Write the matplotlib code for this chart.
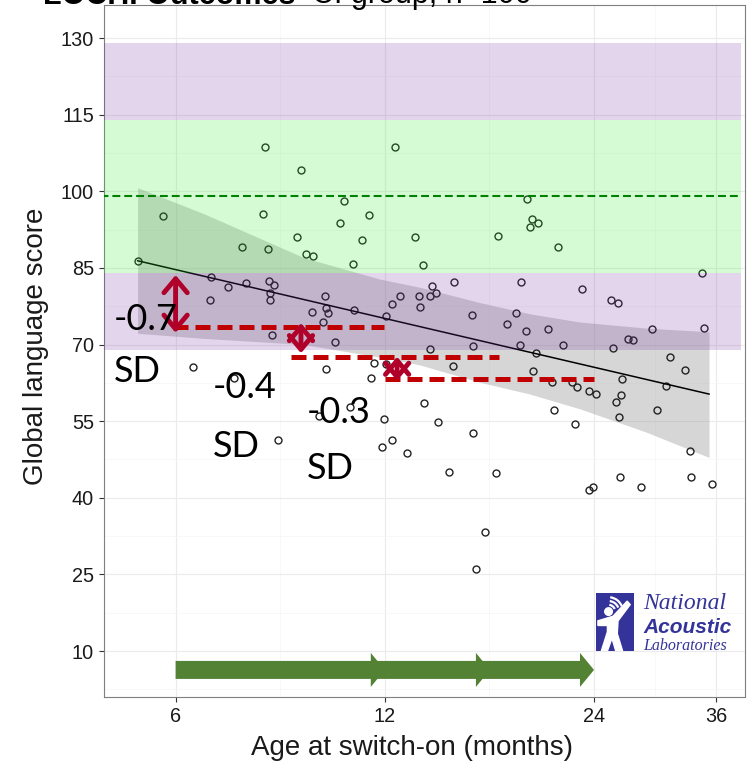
import matplotlib
matplotlib.use('Agg')
import matplotlib.pyplot as plt
from matplotlib.ticker import FixedLocator, NullFormatter
from matplotlib.patches import FancyArrowPatch, Rectangle, Ellipse, Polygon, Arc

# scatter: age at switch-on (months) vs global language score
ages = [8.07, 9.09, 10.48, 8.01, 11.38, 5.75, 10.35, 8.96, 11.14, 7.48,
        8.14, 9.25, 9.45, 10.81, 5.29, 6.75, 7.14, 7.57, 8.17, 8.30,
        8.21, 8.20, 6.72, 9.83, 9.88, 9.93, 9.43, 9.79, 10.85, 8.27,
        10.16,
        6.35, 7.27, 9.89, 11.57, 11.48, 9.66, 10.69, 8.43,
        12.40, 19.22, 19.54, 19.92, 19.43, 13.25, 17.46, 21.32, 13.62, 34.29,
        15.09, 18.86, 14.05, 14.20, 13.94, 13.43, 12.61, 12.28, 13.48, 12.04,
        23.04, 25.42, 26.01, 16.00, 18.53, 17.99, 19.16, 20.63, 29.11, 34.55,
        26.89, 27.34, 21.64, 18.80, 16.07, 25.53, 13.94, 19.81, 30.84,
        12.04, 15.04, 19.61, 20.90, 22.34, 22.66, 23.61, 24.14, 26.31, 32.47,
        30.43, 26.22, 25.82, 26.05, 29.57, 21.02, 13.65, 11.97, 14.30, 22.54,
        16.07, 12.30, 11.88, 12.93, 32.95, 14.84, 17.35, 26.14, 33.13, 23.58,
        23.94, 28.02, 35.45, 16.73, 16.25]
scores = [108.7, 104.2, 98.0, 95.6, 95.3, 95.1, 93.8, 91.1, 90.4, 89.0,
          88.7, 87.7, 87.3, 85.8, 86.4, 83.3, 81.2, 82.0, 82.5, 81.6,
          80.0, 78.8, 78.8, 79.5, 77.2, 76.2, 76.4, 74.5, 76.8, 71.9,
          70.5,
          65.6, 63.5, 65.3, 66.3, 63.4, 56.1, 57.8, 51.3,
          108.7, 98.5, 94.5, 93.7, 93.0, 91.1, 91.2, 89.1, 85.6, 84.0,
          82.2, 82.2, 81.5, 80.0, 79.5, 79.5, 79.4, 77.9, 77.3, 75.6,
          80.9, 78.8, 78.2, 75.7, 76.2, 74.1, 72.6, 73.0, 73.0, 73.2,
          71.1, 70.8, 70.0, 70.0, 69.8, 69.3, 69.1, 68.4, 67.6,
          66.1, 65.8, 64.8, 62.6, 62.7, 61.7, 60.9, 60.3, 63.3, 65.1,
          61.9, 60.2, 58.8, 55.8, 57.2, 57.1, 58.6, 55.5, 54.8, 54.4,
          52.6, 51.3, 49.9, 48.8, 49.1, 45.0, 44.9, 44.1, 44.1, 41.6,
          42.1, 42.2, 42.6, 33.3, 26.0]

# fitted line and its confidence band
fit_age = [5.29, 35.13]
fit_score = [86.4, 60.3]
band_age = [5.29, 6.59, 9.18, 11.81, 13.48, 16.45, 19.41, 22.91, 28.6, 35.13]
band_hi = [100.7, 95.6, 87.0, 82.8, 81.2, 78.2, 76.0, 74.4, 73.2, 72.5]
band_lo = [72.2, 71.2, 70.0, 67.5, 66.0, 62.6, 60.3, 57.4, 52.8, 47.9]

# normative bands (mean 99, SD 15)
norm_mean = 99
purple_bands = [(69, 84), (114, 129)]
green_band = (84, 114)
band_right = 39.0

# red "drop" annotations
drop_lines = [(5.95, 11.95, 73.5), (8.8, 17.5, 67.6), (12.0, 24.0, 63.2)]
drop_arrows = [(6.0, 83.6, 72.3), (9.09, 74.2, 68.3), (12.5, 67.6, 62.9)]
drop_labels = ['-0.7', '-0.4', '-0.3']
drop_label_pos = [(4.89, 72.84, 62.66), (6.79, 59.52, 48.0), (9.27, 54.63, 43.67)]

# green timeline arrows along the bottom (start, tip)
time_arrows = [(16.2, 24), (11.46, 17), (6, 12)]
time_y = 6.3

xticks = [6, 12, 24, 36]
yticks = [10, 25, 40, 55, 70, 85, 100, 115, 130]

fig = plt.figure(figsize=(7.48, 7.67), dpi=100)
ax = fig.add_axes([104 / 748, 70 / 767, 641 / 748, 692 / 767])
ax.set_xscale('log')
ax.set_xlim(4.733, 39.58)
ax.set_ylim(1.0, 136.46)

ax.set_xticks(xticks)
ax.set_xticklabels([str(t) for t in xticks])
ax.xaxis.set_minor_locator(FixedLocator([8.49, 16.97, 29.39]))
ax.xaxis.set_minor_formatter(NullFormatter())
ax.set_yticks(yticks)
ax.set_yticklabels([str(t) for t in yticks])
ax.yaxis.set_minor_locator(FixedLocator([2.5 + 15 * i for i in range(9)]))
ax.tick_params(which='major', direction='out', length=3.3, width=0.8, color='#333333',
               labelsize=14.3, labelcolor='#1a1a1a', pad=4)
ax.tick_params(which='minor', length=0)
ax.grid(which='major', color='#ebebeb', lw=0.8)
ax.grid(which='minor', color='#f5f5f5', lw=0.5)
ax.set_axisbelow(True)
for s in ax.spines.values():
    s.set_color('#7f7f7f')
    s.set_linewidth(0.8)
for lab in ax.get_xticklabels() + ax.get_yticklabels():
    lab.set_family('Liberation Sans')

# data layer
ax.fill_between(band_age, band_lo, band_hi, color='#999999', alpha=0.4, lw=0, zorder=2)
ax.plot(ages, scores, 'o', ms=5, mfc='none', mec='#222222', mew=1.0, zorder=3)
ax.plot(fit_age, fit_score, color='black', lw=1.1, zorder=3)

# normative bands overlaid
for lo, hi in purple_bands:
    ax.fill_between([4.0, band_right], lo, hi, color=(110 / 255, 45 / 255, 160 / 255),
                    alpha=0.2, lw=0, zorder=4)
ax.fill_between([4.0, band_right], green_band[0], green_band[1],
                color=(45 / 255, 235 / 255, 45 / 255), alpha=0.2, lw=0, zorder=4)
ax.plot([4.0, band_right], [norm_mean, norm_mean], color='#008000', lw=1.5,
        linestyle=(0, (3.8, 1.9)), zorder=5)

# red annotations
for x0, x1, y in drop_lines:
    ax.plot([x0, x1], [y, y], color='#c00000', lw=3.6, linestyle=(0, (3.0, 1.4)),
            solid_capstyle='butt', dash_capstyle='butt', zorder=6)
for x, y0, y1 in drop_arrows:
    ax.annotate('', xy=(x, y0), xytext=(x, y1), zorder=7,
                arrowprops=dict(arrowstyle='<->,head_length=0.5,head_width=0.42',
                                lw=3.5, color='#b0002a', shrinkA=0, shrinkB=0,
                                mutation_scale=20))
for lab, (x, y_num, y_sd) in zip(drop_labels, drop_label_pos):
    ax.text(x, y_num, lab, fontsize=26, family=['Lato', 'DejaVu Sans'], color='black',
            va='baseline', ha='left', zorder=8)
    ax.text(x, y_sd, 'SD', fontsize=26, family=['Lato', 'DejaVu Sans'], color='black',
            va='baseline', ha='left', zorder=8)

# timeline arrows
for x0, x1 in time_arrows:
    arr = FancyArrowPatch((x0, time_y), (x1, time_y),
                          arrowstyle='simple,head_length=0.7,head_width=1.7,tail_width=0.9',
                          mutation_scale=14.4, color='#548235', lw=0,
                          shrinkA=0, shrinkB=0, zorder=6)
    ax.add_patch(arr)

# axis titles
fig.text(412 / 748, 1 - 748 / 767, 'Age at switch-on (months)', fontsize=20,
         family='Liberation Sans', ha='center', va='center', color='#1a1a1a')
fig.text(36 / 748, 1 - 346 / 767, 'Global language score', fontsize=20,
         family='Liberation Sans', ha='center', va='center', rotation=90, color='#1a1a1a')

# slide title, cut off at the top edge as in the slide
fig.text(43 / 748, 1 - 3.5 / 767, 'LOCHI Outcomes', fontsize=22, weight='bold',
         family='Liberation Sans', va='baseline', ha='left')
fig.text(312 / 748, 1 - 3.5 / 767, 'CI group, n=100', fontsize=22,
         family='Liberation Sans', va='baseline', ha='left')

# NAL logo
nal = '#333399'
lax = fig.add_axes([596 / 748, 1 - 651 / 767, 38 / 748, 58 / 767])
lax.set_xlim(0, 1)
lax.set_ylim(0, 1)
lax.axis('off')
lax.add_patch(Rectangle((0, 0), 1, 1, color=nal))
lax.add_patch(Ellipse((0.33, 0.68), 0.2, 0.13, color='white'))
lax.add_patch(Polygon([(0.05, 0.52), (0.45, 0.6), (0.82, 0.86), (0.9, 0.8),
                       (0.58, 0.52), (0.56, 0.3), (0.7, 0.0), (0.52, 0.0),
                       (0.42, 0.22), (0.3, 0.0), (0.14, 0.0), (0.3, 0.33),
                       (0.3, 0.44), (0.05, 0.44)], closed=True, color='white'))
for r in [0.35, 0.55, 0.75]:
    lax.add_patch(Arc((0.33, 0.68), r, r * 0.66, theta1=15, theta2=80,
                      color='white', lw=1.6))
fig.text(643 / 748, 1 - 609 / 767, 'National', fontsize=17, style='italic',
         family='Liberation Serif', color=nal, va='baseline')
fig.text(643 / 748, 1 - 633 / 767, 'Acoustic', fontsize=15, style='italic', weight='bold',
         family='Liberation Sans', color=nal, va='baseline')
fig.text(643 / 748, 1 - 650 / 767, 'Laboratories', fontsize=11.5, style='italic',
         family='Liberation Serif', color=nal, va='baseline')

fig.savefig('out.png', dpi=100)
